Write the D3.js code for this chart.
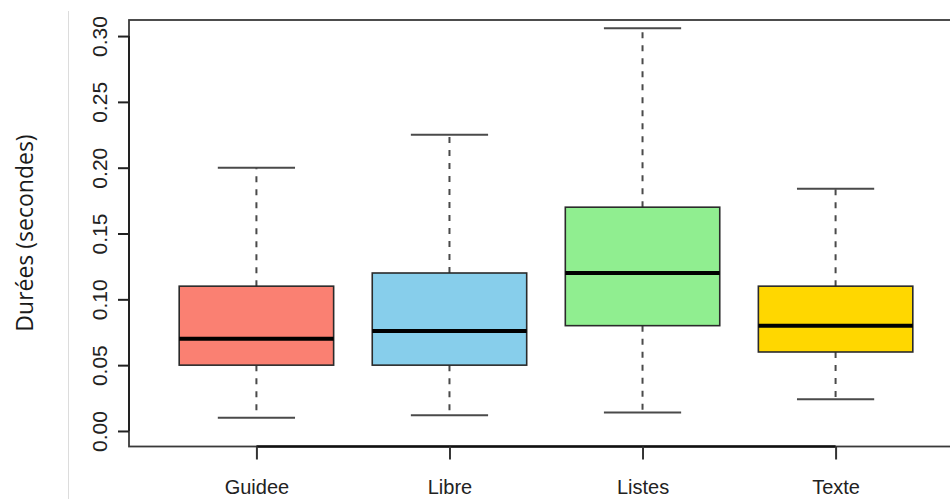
<!DOCTYPE html>
<html>
<head>
<meta charset="utf-8">
<script src="https://cdn.jsdelivr.net/npm/d3@7"></script>
<style>
  html, body { margin: 0; padding: 0; background: #fff; }
  svg { display: block; }
</style>
</head>
<body>
<svg id="chart" width="950" height="499"></svg>
<script>
// Box-plot statistics per input mode (seconds)
const categories = ["Guidee", "Libre", "Listes", "Texte"];
const whiskerLow  = [0.010, 0.012, 0.014, 0.024];
const quartile1   = [0.050, 0.050, 0.080, 0.060];
const medians     = [0.070, 0.076, 0.120, 0.080];
const quartile3   = [0.110, 0.120, 0.170, 0.110];
const whiskerHigh = [0.200, 0.225, 0.306, 0.184];
const boxColors   = ["#FA8072", "#87CEEB", "#90EE90", "#FFD700"];
const yTicks      = [0.00, 0.05, 0.10, 0.15, 0.20, 0.25, 0.30];
const yTitle      = "Durées (secondes)";

const data = categories.map((c, i) => ({
  name: c, pos: i + 1,
  lo: whiskerLow[i], q1: quartile1[i], med: medians[i],
  q3: quartile3[i], hi: whiskerHigh[i], color: boxColors[i]
}));

const svg = d3.select("#chart");
const plot = { left: 129, right: 963, top: 20, bottom: 446.5 };

const x = d3.scaleLinear().domain([0.34, 4.66]).range([plot.left, plot.right]);
const y = d3.scaleLinear().domain([-0.0118, 0.3122]).range([plot.bottom, plot.top]);
const halfBox = 0.4, halfStaple = 0.2;

// thin separator line at far left
svg.append("line")
  .attr("x1", 68.5).attr("x2", 68.5).attr("y1", 11).attr("y2", 499)
  .attr("stroke", "#dcdcdc").attr("stroke-width", 1);

// whiskers (dashed) and staples
const g = svg.append("g");
data.forEach(d => {
  const cx = x(d.pos);
  g.append("line").attr("x1", cx).attr("x2", cx)
    .attr("y1", y(d.q3)).attr("y2", y(d.hi))
    .attr("stroke", "#4a4a4a").attr("stroke-width", 2).attr("stroke-dasharray", "6,7");
  g.append("line").attr("x1", cx).attr("x2", cx)
    .attr("y1", y(d.q1)).attr("y2", y(d.lo))
    .attr("stroke", "#4a4a4a").attr("stroke-width", 2).attr("stroke-dasharray", "6,7");
  [d.lo, d.hi].forEach(v => {
    g.append("line")
      .attr("x1", x(d.pos - halfStaple)).attr("x2", x(d.pos + halfStaple))
      .attr("y1", y(v)).attr("y2", y(v))
      .attr("stroke", "#4a4a4a").attr("stroke-width", 2);
  });
});

// boxes
g.selectAll("rect.box").data(data).join("rect")
  .attr("class", "box")
  .attr("x", d => x(d.pos - halfBox))
  .attr("width", d => x(d.pos + halfBox) - x(d.pos - halfBox))
  .attr("y", d => y(d.q3))
  .attr("height", d => y(d.q1) - y(d.q3))
  .attr("fill", d => d.color)
  .attr("stroke", "#2a2a2a").attr("stroke-width", 1.6);

// medians
g.selectAll("line.median").data(data).join("line")
  .attr("class", "median")
  .attr("x1", d => x(d.pos - halfBox)).attr("x2", d => x(d.pos + halfBox))
  .attr("y1", d => y(d.med)).attr("y2", d => y(d.med))
  .attr("stroke", "#000").attr("stroke-width", 4);

// plot frame
svg.append("rect")
  .attr("x", plot.left).attr("y", plot.top)
  .attr("width", plot.right - plot.left).attr("height", plot.bottom - plot.top)
  .attr("fill", "none").attr("stroke", "#3a3a3a").attr("stroke-width", 1.8);

// y axis
const yAxis = d3.axisLeft(y).tickValues(yTicks).tickFormat(d3.format(".2f"))
  .tickSize(11).tickPadding(0);
const ya = svg.append("g").attr("transform", `translate(${plot.left},0)`).call(yAxis);
ya.select(".domain").attr("d", `M0,${y(0)}V${y(0.30)}`).attr("stroke", "#222").attr("stroke-width", 2);
ya.selectAll(".tick line").attr("stroke", "#222").attr("stroke-width", 2);
ya.selectAll(".tick text")
  .attr("transform", "rotate(-90)")
  .attr("x", 0).attr("y", -22).attr("dy", 0)
  .attr("text-anchor", "middle")
  .attr("fill", "#222")
  .style("font-family", "'Liberation Sans', Arial, sans-serif")
  .style("font-size", "21px");

// x axis
const xAxis = d3.axisBottom(x).tickValues(data.map(d => d.pos))
  .tickFormat((d, i) => categories[i]).tickSize(13).tickPadding(0);
const xa = svg.append("g").attr("transform", `translate(0,${plot.bottom})`).call(xAxis);
xa.select(".domain").attr("d", `M${x(1)},0H${x(4)}`).attr("stroke", "#111").attr("stroke-width", 2.6);
xa.selectAll(".tick line").attr("stroke", "#333").attr("stroke-width", 2);
xa.selectAll(".tick text")
  .attr("y", 47.5).attr("dy", 0)
  .attr("fill", "#222")
  .style("font-family", "'Liberation Sans', Arial, sans-serif")
  .style("font-size", "20px");

// y title
svg.append("text")
  .attr("transform", "translate(33,233) rotate(-90)")
  .attr("text-anchor", "middle")
  .attr("fill", "#1a1a1a")
  .style("font-family", "'Open Sans', 'Noto Sans', sans-serif")
  .style("font-size", "23px")
  .text(yTitle);
</script>
</body>
</html>
